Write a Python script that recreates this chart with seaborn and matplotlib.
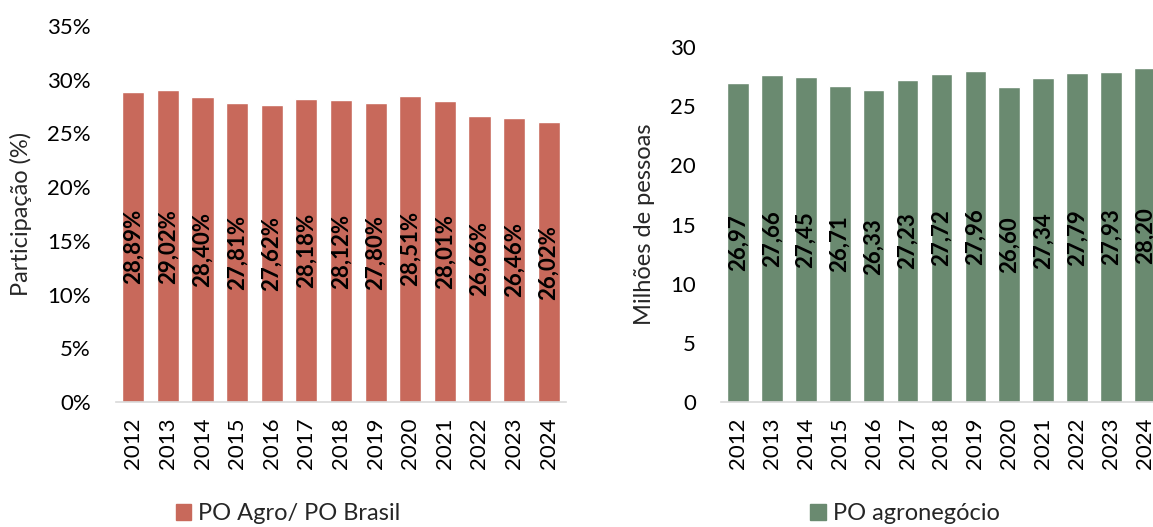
import matplotlib
matplotlib.use("Agg")
import matplotlib.pyplot as plt
import seaborn as sns
import pandas as pd
from matplotlib.patches import Patch

sns.set_theme(style="white")
plt.rcParams['font.family'] = ['Lato', 'DejaVu Sans']

anos = ['2012', '2013', '2014', '2015', '2016', '2017', '2018',
        '2019', '2020', '2021', '2022', '2023', '2024']
participacao = [28.89, 29.02, 28.40, 27.81, 27.62, 28.18, 28.12,
                27.80, 28.51, 28.01, 26.66, 26.46, 26.02]
po_agro = [26.97, 27.66, 27.45, 26.71, 26.33, 27.23, 27.72,
           27.96, 26.60, 27.34, 27.79, 27.93, 28.20]

cor_vermelho = '#C8695B'
cor_verde = '#6A8A70'
fs = 16

df = pd.DataFrame({'ano': anos, 'part': participacao, 'po': po_agro})

fig = plt.figure(figsize=(11.53, 5.27), dpi=100)
ax1 = fig.add_axes([0.1006, 0.2372, 0.3903, 0.7135])
ax2 = fig.add_axes([0.6253, 0.2372, 0.3825, 0.6736])


def estilo(ax):
    for s in ['top', 'right', 'left']:
        ax.spines[s].set_visible(False)
    ax.spines['bottom'].set_color('#D9D9D9')
    ax.spines['bottom'].set_linewidth(1.2)
    ax.set_xlim(-0.5, len(anos) - 0.5)
    ax.set_xlabel('')
    ax.tick_params(axis='x', length=0, pad=11, labelsize=fs, labelrotation=90,
                   colors='black')
    ax.tick_params(axis='y', length=0, pad=18, labelsize=fs, colors='black')


# grafico esquerdo: participacao
sns.barplot(data=df, x='ano', y='part', color=cor_vermelho, width=0.64,
            saturation=1, ax=ax1)
estilo(ax1)
ax1.set_ylim(0, 35)
ax1.set_yticks(range(0, 36, 5))
ax1.set_yticklabels([f'{v}%' for v in range(0, 36, 5)])
ax1.set_ylabel('Participação (%)', fontsize=17)
ax1.yaxis.set_label_coords(-0.187, 0.5)
for i, v in enumerate(participacao):
    ax1.text(i, v / 2, f'{v:.2f}%'.replace('.', ','), rotation=90,
             ha='center', va='center', fontsize=fs, fontweight='bold',
             color='black')

# grafico direito: pessoas ocupadas
sns.barplot(data=df, x='ano', y='po', color=cor_verde, width=0.64,
            saturation=1, ax=ax2)
estilo(ax2)
ax2.set_ylim(0, 30)
ax2.set_yticks(range(0, 31, 5))
ax2.set_ylabel('Milhões de pessoas', fontsize=17)
ax2.yaxis.set_label_coords(-0.150, 0.5)
for i, v in enumerate(po_agro):
    ax2.text(i, v / 2, f'{v:.2f}'.replace('.', ','), rotation=90,
             ha='center', va='center', fontsize=fs, fontweight='bold',
             color='black')

fig.legend(handles=[Patch(color=cor_vermelho, label='PO Agro/ PO Brasil')],
           loc='center', bbox_to_anchor=(288 / 1153, 1 - 514 / 527),
           frameon=False, fontsize=17, handlelength=0.65, handleheight=0.65,
           handletextpad=0.3)
fig.legend(handles=[Patch(color=cor_verde, label='PO agronegócio')],
           loc='center', bbox_to_anchor=(905 / 1153, 1 - 514 / 527),
           frameon=False, fontsize=17, handlelength=0.65, handleheight=0.65,
           handletextpad=0.3)

fig.savefig('out.png', dpi=100)
